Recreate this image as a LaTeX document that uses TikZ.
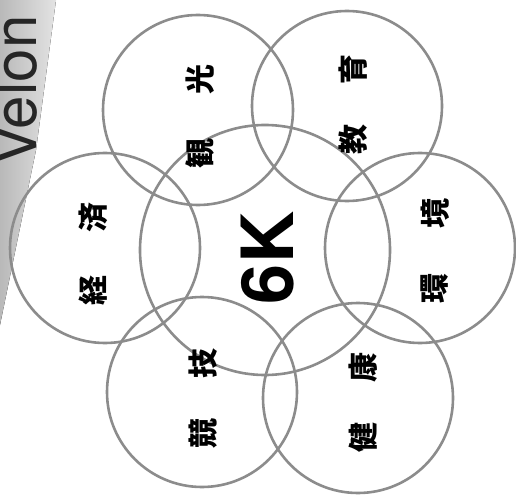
\documentclass[tikz,border=0pt]{standalone}
\usepackage{fontspec}
\newfontfamily\cjk{Noto Sans CJK JP}
\newfontfamily\heros{TeX Gyre Heros}
\definecolor{ringgray}{gray}{0.55}

\begin{document}
\begin{tikzpicture}[x=1pt,y=-1pt,
  ring/.style={circle,draw=ringgray,line width=2.6pt,minimum size=190pt,inner sep=0pt},
  kanji/.style={rotate=90,inner sep=0pt,font=\cjk\bfseries\fontsize{30}{30}\selectfont}]
\useasboundingbox (0,0) rectangle (516,497);
\clip (0,0) rectangle (516,497);
% grey strip with the brand name
\fill[left color=gray!55,right color=gray!22] (0,0) -- (56,0) -- (36,150) -- (0,325) -- cycle;
\node[rotate=90,anchor=base west,inner sep=0pt,font=\heros\fontsize{60}{60}\selectfont,text=black!85] (brand) at (36,166) {Velon};
% rings
\node[ring,minimum size=250pt] (core) at (265,250) {};
\node[ring] (kanko) at (198,110) {};
\node[ring] (kyoiku) at (347,106) {};
\node[ring] (keizai) at (105,248) {};
\node[ring] (kankyo) at (420,248) {};
\node[ring] (kyogi) at (202,392) {};
\node[ring] (kenko) at (358,398) {};
% labels
\node[kanji] (kan) at (200,153) {観};
\node[kanji] (ko) at (200,80) {光};
\node[kanji] (kyo) at (353,140) {教};
\node[kanji] (iku) at (353,70) {育};
\node[kanji] (kei) at (93,290) {経};
\node[kanji] (zai) at (93,217) {済};
\node[kanji] (kan2) at (435,288) {環};
\node[kanji] (kyo2) at (435,213) {境};
\node[kanji] (kyo3) at (203,433) {競};
\node[kanji] (gi) at (203,363) {技};
\node[kanji] (ken) at (363,437) {健};
\node[kanji] (ko2) at (363,367) {康};
\node[rotate=90,inner sep=0pt,font=\heros\bfseries\fontsize{72}{72}\selectfont] (sixk) at (268,258) {6K};
\end{tikzpicture}
\end{document}
